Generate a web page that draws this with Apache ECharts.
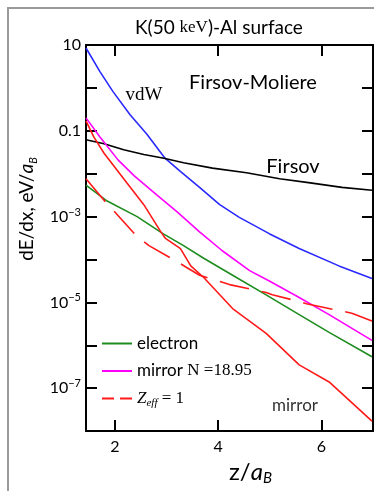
<!DOCTYPE html>
<html>
<head>
<meta charset="utf-8">
<script src="https://cdn.jsdelivr.net/npm/echarts@6/dist/echarts.min.js"></script>
<style>
html,body{margin:0;padding:0;background:#fff;}
#chart{width:374px;height:491px;}
</style>
</head>
<body>
<div id="chart"></div>
<script>
// ---- data (z / a_B, dE/dx in eV/a_B) ----
const vdwX = [1.44, 1.71, 1.96, 2.29, 2.62, 2.97, 3.25, 3.64, 4.03, 4.41, 4.99, 5.57, 6.34, 6.98];
const vdwY = [8.5, 2.4, 0.83, 0.24, 0.083, 0.023, 0.0118, 0.0048, 0.0019, 9.6e-4, 4.0e-4, 1.8e-4, 7.1e-5, 3.6e-5];

const firsovX = [1.44, 1.79, 2.17, 2.56, 2.95, 3.33, 3.89, 4.55, 5.19, 5.75, 6.40, 6.98];
const firsovY = [0.062, 0.050, 0.036, 0.028, 0.023, 0.018, 0.0135, 0.0105, 0.0076, 0.0062, 0.0048, 0.0041];

const mirrorNX = [1.44, 1.71, 2.06, 2.37, 2.81, 3.20, 3.64, 4.08, 4.61, 5.0, 5.57, 6.15, 6.98];
const mirrorNY = [0.20, 0.072, 0.021, 0.0090, 0.0032, 0.0013, 4.4e-4, 1.6e-4, 5.5e-5, 3.1e-5, 1.3e-5, 5.2e-6, 1.3e-6];

const electronX = [1.44, 1.85, 2.43, 2.93, 3.33, 3.72, 4.28, 4.93, 5.57, 6.15, 6.98];
const electronY = [0.0054, 0.0023, 0.0010, 4.0e-4, 2.1e-4, 1.07e-4, 4.3e-5, 1.5e-5, 5.2e-6, 2.0e-6, 5.4e-7];

const mirrorX = [1.44, 1.59, 1.79, 2.17, 2.56, 2.89, 2.98, 3.27, 3.47, 3.72, 4.28, 4.93, 5.57, 6.15, 6.98];
const mirrorY = [0.17, 0.072, 0.030, 0.0076, 0.0019, 4.4e-4, 3.1e-4, 1.8e-4, 7.1e-5, 3.8e-5, 7.2e-6, 1.9e-6, 3.5e-7, 1.4e-7, 1.7e-8];

const zeffX = [1.44, 1.83, 2.02, 2.42, 2.66, 3.18, 3.39, 3.64, 3.99, 4.22, 4.93, 5.05, 5.57, 5.71, 6.59, 6.98];
const zeffY = [0.0076, 0.0021, 0.0012, 3.5e-4, 2.1e-4, 9.3e-5, 6.5e-5, 4.3e-5, 3.2e-5, 2.6e-5, 1.7e-5, 1.5e-5, 1.05e-5, 9.3e-6, 5.6e-6, 3.7e-6];

const xTicks = [2, 4, 6];
const yTicks = [1e-8, 1e-7, 1e-6, 1e-5, 1e-4, 1e-3, 1e-2, 0.1, 1, 10];
const yLabels = [10, 0.1, 1e-3, 1e-5, 1e-7];

const zip = (xs, ys) => xs.map((x, i) => [x, ys[i]]);

const SANS = 'Lato';
const SERIF = 'Liberation Serif';

function yFmt(v) {
  const e = Math.round(Math.log10(v));
  if (e === 1) return '{b|10}';
  if (e === -1) return '{b|0.1}';
  if (e === 0) return '{b|1}';
  return '{b|10}{s|\u2212' + Math.abs(e) + '}';
}

const axisLine = {show: true, onZero: false, lineStyle: {color: '#000', width: 2}};
const tickStyle = {inside: true, length: 11, lineStyle: {color: '#000', width: 2}};

const chart = echarts.init(document.getElementById('chart'), null, {renderer: 'canvas'});

const lineBase = {type: 'line', symbol: 'none', smooth: false};

const option = {
  animation: false,
  backgroundColor: '#fff',
  title: {
    text: '{a|K(50 }{b|keV}{a|)-Al surface}',
    left: 130, top: 13,
    textStyle: {
      fontWeight: 'normal',
      rich: {
        a: {fontFamily: SANS, fontSize: 19, fontWeight: 'normal', color: '#000'},
        b: {fontFamily: SERIF, fontSize: 17, fontWeight: 'normal', color: '#000'}
      }
    }
  },
  grid: {left: 86, top: 45, right: 1, bottom: 48, containLabel: false},
  xAxis: [
    {
      type: 'value', min: 1.44, max: 7, position: 'bottom',
      axisLine: axisLine,
      axisTick: Object.assign({customValues: xTicks}, tickStyle),
      axisLabel: {customValues: xTicks, fontFamily: SANS, fontSize: 16, color: '#000', margin: 8},
      splitLine: {show: false},
      name: '{z|z/}{a|a}{s|B}', nameLocation: 'middle', nameGap: 23,
      nameTextStyle: {
        padding: [0, 0, 0, 42],
        rich: {
          z: {fontFamily: SANS, fontSize: 24, color: '#000', lineHeight: 28},
          a: {fontFamily: SANS, fontSize: 24, fontStyle: 'italic', color: '#000', lineHeight: 28},
          s: {fontFamily: SANS, fontSize: 15, fontStyle: 'italic', color: '#000', verticalAlign: 'bottom'}
        }
      }
    },
    {
      type: 'value', min: 1.44, max: 7, position: 'top',
      axisLine: axisLine,
      axisTick: Object.assign({customValues: xTicks}, tickStyle),
      axisLabel: {show: false},
      splitLine: {show: false}
    }
  ],
  yAxis: [
    {
      type: 'log', logBase: 10, min: 1e-8, max: 10, position: 'left',
      axisLine: axisLine,
      axisTick: Object.assign({customValues: yTicks}, tickStyle),
      axisLabel: {
        customValues: yLabels, formatter: yFmt, margin: 5, color: '#000',
        rich: {
          b: {fontFamily: SANS, fontSize: 16, color: '#000', lineHeight: 20},
          s: {fontFamily: SANS, fontSize: 11, color: '#000', verticalAlign: 'top', lineHeight: 12}
        }
      },
      splitLine: {show: false},
      minorTick: {show: false},
      name: '{n|dE/dx, eV/}{a|a}{s|B}', nameLocation: 'middle', nameRotate: 90, nameGap: 42,
      nameTextStyle: {
        padding: [0, 0, 0, 58],
        rich: {
          n: {fontFamily: SANS, fontSize: 19, color: '#000', lineHeight: 23},
          a: {fontFamily: SANS, fontSize: 19, fontStyle: 'italic', color: '#000', lineHeight: 23},
          s: {fontFamily: SANS, fontSize: 11, fontStyle: 'italic', color: '#000', verticalAlign: 'bottom'}
        }
      }
    },
    {
      type: 'log', logBase: 10, min: 1e-8, max: 10, position: 'right',
      axisLine: axisLine,
      axisTick: Object.assign({customValues: yTicks}, tickStyle),
      axisLabel: {show: false},
      splitLine: {show: false}
    }
  ],
  legend: {
    orient: 'vertical', left: 96, top: 330,
    itemWidth: 30, itemHeight: 14, itemGap: 10.5,
    itemStyle: {opacity: 0},
    data: [
      {name: 'electron'},
      {name: 'mirror N =18.95'},
      {name: 'Z_eff = 1', lineStyle: {type: [12, 6]}}
    ],
    formatter: function (name) {
      if (name === 'electron') return '{t|electron}';
      if (name === 'mirror N =18.95') return '{t|mirror }{m|N =18.95}';
      return '{z|Z}{e|eff}{m| = 1}';
    },
    textStyle: {
      rich: {
        t: {fontFamily: SANS, fontSize: 17, color: '#000', lineHeight: 20},
        m: {fontFamily: SERIF, fontSize: 17, color: '#000', lineHeight: 20},
        z: {fontFamily: SERIF, fontSize: 17, fontStyle: 'italic', color: '#000', lineHeight: 20},
        e: {fontFamily: SERIF, fontSize: 11, fontStyle: 'italic', color: '#000', verticalAlign: 'bottom'}
      }
    }
  },
  series: [
    Object.assign({name: 'vdW', data: zip(vdwX, vdwY),
     lineStyle: {color: '#2a2aff', width: 1.6}, itemStyle: {color: '#2a2aff'}}, lineBase),
    Object.assign({name: 'Firsov', data: zip(firsovX, firsovY),
     lineStyle: {color: '#000', width: 1.6}, itemStyle: {color: '#000'}}, lineBase),
    Object.assign({name: 'mirror N =18.95', data: zip(mirrorNX, mirrorNY),
     lineStyle: {color: '#ff00ff', width: 1.6}, itemStyle: {color: '#ff00ff'}}, lineBase),
    Object.assign({name: 'electron', data: zip(electronX, electronY),
     lineStyle: {color: '#1e8c1e', width: 1.6}, itemStyle: {color: '#1e8c1e'}}, lineBase),
    Object.assign({name: 'mirror', data: zip(mirrorX, mirrorY),
     lineStyle: {color: '#ff1a1a', width: 1.6}, itemStyle: {color: '#ff1a1a'}}, lineBase),
    Object.assign({name: 'Z_eff = 1', data: zip(zeffX, zeffY),
     lineStyle: {color: '#ff1a1a', width: 1.6, type: [30, 13]}, itemStyle: {color: '#ff1a1a'}}, lineBase)
  ],
  graphic: [
    {type: 'rect', shape: {x: 8, y: 8, width: 420, height: 520}, silent: true, z: -1,
     style: {fill: 'none', stroke: '#9a9a9a', lineWidth: 2}},
    {type: 'text', x: 144, y: 95, style: {text: 'vdW', font: '19px "Liberation Serif"', fill: '#000', align: 'center', verticalAlign: 'middle'}},
    {type: 'text', x: 253, y: 83, style: {text: 'Firsov-Moliere', font: '20px Lato', fill: '#000', align: 'center', verticalAlign: 'middle'}},
    {type: 'text', x: 293, y: 167, style: {text: 'Firsov', font: '20px Lato', fill: '#000', align: 'center', verticalAlign: 'middle'}},
    {type: 'text', x: 295, y: 406, style: {text: 'mirror', font: '17px Lato', fill: '#333', align: 'center', verticalAlign: 'middle'}}
  ]
};

chart.setOption(option);
</script>
</body>
</html>
